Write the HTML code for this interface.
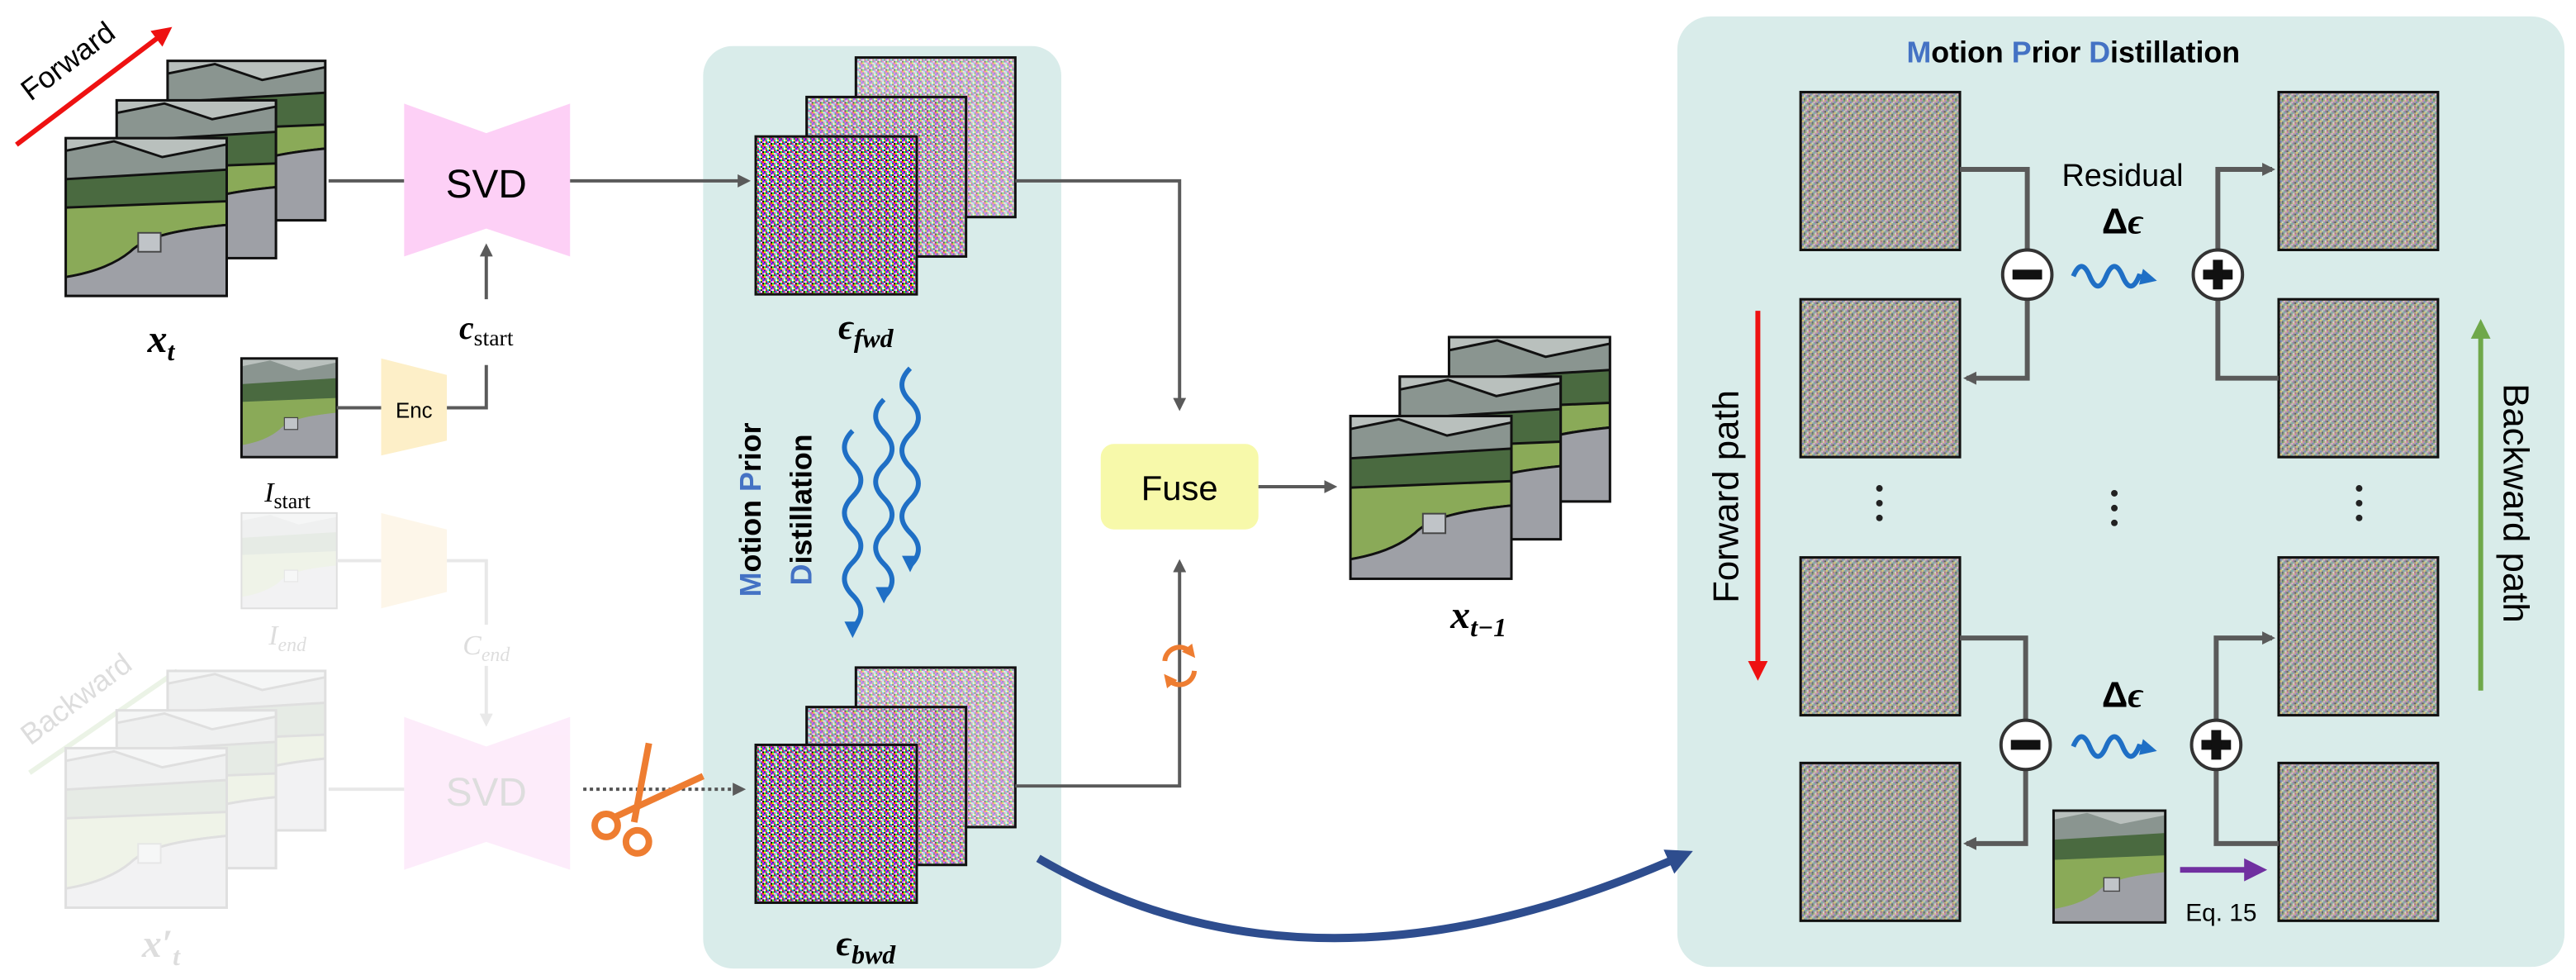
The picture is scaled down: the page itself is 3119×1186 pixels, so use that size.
<!DOCTYPE html>
<html><head><meta charset="utf-8"><style>
html,body{margin:0;padding:0;background:#fff;}
svg{display:block;}
text{font-family:"Liberation Sans",sans-serif;}
.m{font-family:"Liberation Serif",serif;font-style:italic;font-weight:bold;}
</style></head><body>
<svg width="3119" height="1186" viewBox="0 0 1568 596" preserveAspectRatio="none" xmlns="http://www.w3.org/2000/svg">
<defs>
<pattern id="nz" width="5" height="5" patternUnits="userSpaceOnUse">
<rect width="5" height="5" fill="#999"/>
<rect x="0" y="0" width="1" height="1" fill="#ff00cc"/><rect x="1" y="0" width="1" height="1" fill="#00e060"/><rect x="2" y="0" width="1" height="1" fill="#fff"/><rect x="3" y="0" width="1" height="1" fill="#ffee00"/><rect x="4" y="0" width="1" height="1" fill="#2040ff"/>
<rect x="0" y="1" width="1" height="1" fill="#fff"/><rect x="1" y="1" width="1" height="1" fill="#e02020"/><rect x="2" y="1" width="1" height="1" fill="#00c0ff"/><rect x="3" y="1" width="1" height="1" fill="#222"/><rect x="4" y="1" width="1" height="1" fill="#ff80ff"/>
<rect x="0" y="2" width="1" height="1" fill="#20ff20"/><rect x="1" y="2" width="1" height="1" fill="#3030c0"/><rect x="2" y="2" width="1" height="1" fill="#ff2080"/><rect x="3" y="2" width="1" height="1" fill="#ffffff"/><rect x="4" y="2" width="1" height="1" fill="#000"/>
<rect x="0" y="3" width="1" height="1" fill="#ffd000"/><rect x="1" y="3" width="1" height="1" fill="#eee"/><rect x="2" y="3" width="1" height="1" fill="#40ffe0"/><rect x="3" y="3" width="1" height="1" fill="#c000ff"/><rect x="4" y="3" width="1" height="1" fill="#ff4000"/>
<rect x="0" y="4" width="1" height="1" fill="#0040a0"/><rect x="1" y="4" width="1" height="1" fill="#ff60a0"/><rect x="2" y="4" width="1" height="1" fill="#e0e0e0"/><rect x="3" y="4" width="1" height="1" fill="#00a040"/><rect x="4" y="4" width="1" height="1" fill="#ff00ff"/>
</pattern>
<pattern id="nz2" width="5" height="5" patternUnits="userSpaceOnUse">
<rect width="5" height="5" fill="#a8a49c"/>
<rect x="0" y="0" width="1" height="1" fill="#d080b8"/><rect x="2" y="0" width="1" height="1" fill="#6a9a60"/><rect x="4" y="0" width="1" height="1" fill="#d8d090"/>
<rect x="1" y="1" width="1" height="1" fill="#7088c0"/><rect x="3" y="1" width="1" height="1" fill="#e0b0d0"/>
<rect x="0" y="2" width="1" height="1" fill="#5a6a50"/><rect x="2" y="2" width="1" height="1" fill="#c0e0c0"/><rect x="4" y="2" width="1" height="1" fill="#9070b0"/>
<rect x="1" y="3" width="1" height="1" fill="#e0d070"/><rect x="3" y="3" width="1" height="1" fill="#70b0b0"/>
<rect x="0" y="4" width="1" height="1" fill="#b08070"/><rect x="2" y="4" width="1" height="1" fill="#606878"/><rect x="4" y="4" width="1" height="1" fill="#d0d0e0"/>
</pattern>
<symbol id="photo" viewBox="0 0 100 100" preserveAspectRatio="none">
<rect width="100" height="100" fill="#9a9ca2"/>
<rect width="100" height="25" fill="#b9c0bd"/>
<path d="M0 8 L30 2 L60 12 L100 4 L100 28 L0 28Z" fill="#8a9590"/>
<path d="M0 26 L100 20 L100 42 L0 46Z" fill="#4a6a40"/>
<path d="M0 44 L100 40 L100 55 C70 58 50 62 40 72 C28 82 12 86 0 88Z" fill="#8aaa58"/>
<path d="M0 88 C12 86 28 82 40 72 C50 62 70 58 100 55 L100 100 L0 100Z" fill="#9ea0a6"/>
<rect x="45" y="60" width="14" height="12" fill="#c0c4c8" stroke="#444" stroke-width="1"/>
</symbol>
<symbol id="nimg" viewBox="0 0 100 100" preserveAspectRatio="none">
<rect width="100" height="100" fill="url(#nz2)"/>
</symbol>
<marker id="ah" markerWidth="8" markerHeight="8" refX="6" refY="4" orient="auto" markerUnits="userSpaceOnUse"><path d="M0 0 L8 4 L0 8Z" fill="#5a5a5a"/></marker>
<marker id="ahb" markerWidth="10" markerHeight="10" refX="7" refY="5" orient="auto" markerUnits="userSpaceOnUse"><path d="M0 0 L10 5 L0 10Z" fill="#1f6fc5"/></marker>
<marker id="ahn" markerWidth="16" markerHeight="16" refX="10" refY="8" orient="auto" markerUnits="userSpaceOnUse"><path d="M0 0 L16 8 L0 16Z" fill="#2e4d8e"/></marker>
<marker id="ahr" markerWidth="12" markerHeight="12" refX="6" refY="6" orient="auto" markerUnits="userSpaceOnUse"><path d="M0 0 L12 6 L0 12Z" fill="#ee1111"/></marker>
<marker id="ahg" markerWidth="12" markerHeight="12" refX="6" refY="6" orient="auto" markerUnits="userSpaceOnUse"><path d="M0 0 L12 6 L0 12Z" fill="#6fa84a"/></marker>
<marker id="ahp" markerWidth="14" markerHeight="14" refX="6" refY="7" orient="auto" markerUnits="userSpaceOnUse"><path d="M0 0 L14 7 L0 14Z" fill="#7030a0"/></marker>
<marker id="aho" markerWidth="8" markerHeight="8" refX="4" refY="4" orient="auto" markerUnits="userSpaceOnUse"><path d="M0 0 L8 4 L0 8Z" fill="#ee7d31"/></marker>
</defs>

<rect x="428" y="28" width="218" height="561" rx="18" fill="#d9ecea"/>
<rect x="1021" y="10" width="540" height="578" rx="20" fill="#d9ecea"/>

<line x1="10" y1="88" x2="100" y2="20" stroke="#ee1111" stroke-width="3" marker-end="url(#ahr)"/>
<text x="45" y="42" font-size="18" transform="rotate(-37 45 42)" text-anchor="middle">Forward</text>

<g stroke="#111" stroke-width="1.5">
<use href="#photo" x="102" y="37" width="96" height="97"/><rect x="102" y="37" width="96" height="97" fill="none"/>
<use href="#photo" x="71" y="61" width="97" height="96"/><rect x="71" y="61" width="97" height="96" fill="none"/>
<use href="#photo" x="40" y="84" width="98" height="96"/><rect x="40" y="84" width="98" height="96" fill="none"/>
</g>
<text class="m" x="98" y="214" font-size="24" text-anchor="middle">x<tspan font-size="16" dy="5">t</tspan></text>

<line x1="200" y1="110" x2="246" y2="110" stroke="#5a5a5a" stroke-width="2"/>
<path d="M246 63 L296 81 L347 63 L347 156 L296 139 L246 156Z" fill="#fdd0f6"/>
<text x="296" y="120" font-size="24" text-anchor="middle">SVD</text>
<line x1="347" y1="110" x2="455" y2="110" stroke="#5a5a5a" stroke-width="2" marker-end="url(#ah)"/>

<polyline points="272,248 296,248 296,222" fill="none" stroke="#5a5a5a" stroke-width="2"/>
<line x1="296" y1="182" x2="296" y2="150" stroke="#5a5a5a" stroke-width="2" marker-end="url(#ah)"/>
<text class="m" x="296" y="206" font-size="20" text-anchor="middle">c<tspan font-family="Liberation Serif" font-style="normal" font-weight="normal" font-size="14" dy="4">start</tspan></text>
<use href="#photo" x="147" y="218" width="58" height="60"/><rect x="147" y="218" width="58" height="60" fill="none" stroke="#111" stroke-width="1.5"/>
<line x1="205" y1="248" x2="232" y2="248" stroke="#5a5a5a" stroke-width="2"/>
<path d="M232 218 L272 228 L272 268 L232 277Z" fill="#fdefc8"/>
<text x="252" y="254" font-size="13" text-anchor="middle">Enc</text>
<text x="175" y="305" font-size="17" font-style="italic" text-anchor="middle" style="font-family:'Liberation Serif',serif">I<tspan font-style="normal" font-size="13" dy="4">start</tspan></text>

<g opacity="0.13">
<use href="#photo" x="147" y="312" width="58" height="58"/><rect x="147" y="312" width="58" height="58" fill="none" stroke="#111"/>
<line x1="205" y1="341" x2="232" y2="341" stroke="#555" stroke-width="2"/>
<path d="M232 312 L272 322 L272 360 L232 370Z" fill="#f5c060"/>
<polyline points="272,341 296,341 296,380" fill="none" stroke="#555" stroke-width="2"/>
<line x1="296" y1="405" x2="296" y2="440" stroke="#555" stroke-width="2" marker-end="url(#ah)"/>
<text x="175" y="392" font-size="17" font-style="italic" style="font-family:'Liberation Serif',serif" text-anchor="middle">I<tspan font-size="12" dy="4">end</tspan></text>
<text x="296" y="398" font-size="17" font-style="italic" style="font-family:'Liberation Serif',serif" text-anchor="middle">C<tspan font-size="12" dy="4">end</tspan></text>
<path d="M246 436 L296 454 L347 436 L347 529 L296 512 L246 529Z" fill="#f070e0"/>
<text x="296" y="490" font-size="24" text-anchor="middle">SVD</text>
<line x1="200" y1="480" x2="246" y2="480" stroke="#555" stroke-width="2"/>
<line x1="18" y1="470" x2="108" y2="408" stroke="#6fa84a" stroke-width="3"/>
<text x="50" y="430" font-size="18" transform="rotate(-37 50 430)" text-anchor="middle">Backward</text>
<g stroke="#111" stroke-width="1.5">
<use href="#photo" x="102" y="408" width="96" height="97"/><rect x="102" y="408" width="96" height="97" fill="none"/>
<use href="#photo" x="71" y="432" width="97" height="96"/><rect x="71" y="432" width="97" height="96" fill="none"/>
<use href="#photo" x="40" y="455" width="98" height="97"/><rect x="40" y="455" width="98" height="97" fill="none"/>
</g>
<text class="m" x="98" y="582" font-size="24" text-anchor="middle">x′<tspan font-size="16" dy="5">t</tspan></text>
</g>

<line x1="355" y1="480" x2="452" y2="480" stroke="#555" stroke-width="2" stroke-dasharray="2,2" marker-end="url(#ah)"/>
<g stroke="#ee7d31" stroke-width="4" fill="none">
<line x1="395" y1="452" x2="386" y2="500"/>
<line x1="428" y1="472" x2="374" y2="497"/>
<circle cx="369" cy="502" r="7"/><circle cx="388" cy="512" r="7"/>
</g>

<g stroke="#111" stroke-width="1.5">
<rect x="521" y="35" width="97" height="97" fill="url(#nz)"/><rect x="521" y="35" width="97" height="97" fill="#e8e8e8" opacity="0.55"/>
<rect x="491" y="59" width="97" height="97" fill="url(#nz)"/><rect x="491" y="59" width="97" height="97" fill="#e0d8e0" opacity="0.4"/>
<rect x="460" y="83" width="98" height="96" fill="url(#nz)"/>
</g>
<text class="m" x="527" y="206" font-size="22" text-anchor="middle">ϵ<tspan font-size="16" dy="5">fwd</tspan></text>
<g stroke="#111" stroke-width="1.5">
<rect x="521" y="406" width="97" height="97" fill="url(#nz)"/><rect x="521" y="406" width="97" height="97" fill="#e8e8e8" opacity="0.55"/>
<rect x="491" y="430" width="97" height="96" fill="url(#nz)"/><rect x="491" y="430" width="97" height="96" fill="#e0d8e0" opacity="0.4"/>
<rect x="460" y="453" width="98" height="96" fill="url(#nz)"/>
</g>
<text class="m" x="527" y="581" font-size="22" text-anchor="middle">ϵ<tspan font-size="16" dy="5">bwd</tspan></text>

<text x="0" y="0" font-size="18" font-weight="bold" text-anchor="middle" transform="translate(463 310) rotate(-90)"><tspan fill="#4472c4">M</tspan>otion <tspan fill="#4472c4">P</tspan>rior</text>
<text x="0" y="0" font-size="18" font-weight="bold" text-anchor="middle" transform="translate(494 310) rotate(-90)"><tspan fill="#4472c4">D</tspan>istillation</text>
<g fill="none" stroke="#1f6fc5" stroke-width="3">
<path d="M519 262 q-10 10 0 20 t0 20 t0 20 t0 20 t0 20 t0 20 l0 3" marker-end="url(#ahb)"/>
<path d="M538 243 q-10 10 0 20 t0 20 t0 20 t0 20 t0 20 t0 20 l0 1" marker-end="url(#ahb)"/>
<path d="M554 224 q-10 10 0 20 t0 20 t0 20 t0 20 t0 20 t0 20 l0 1" marker-end="url(#ahb)"/>
</g>

<polyline points="618,110 718,110 718,248" fill="none" stroke="#5a5a5a" stroke-width="2" marker-end="url(#ah)"/>
<polyline points="618,478 718,478 718,342" fill="none" stroke="#5a5a5a" stroke-width="2" marker-end="url(#ah)"/>
<rect x="670" y="270" width="96" height="52" rx="8" fill="#f7f9aa"/>
<text x="718" y="304" font-size="21" text-anchor="middle">Fuse</text>
<rect x="706" y="392" width="24" height="24" fill="#d9ecea" opacity="0"/>
<g fill="none" stroke="#ee7d31" stroke-width="3">
<path d="M709 402 A9 9 0 0 1 725 397" marker-end="url(#aho)"/>
<path d="M727 408 A9 9 0 0 1 711 413" marker-end="url(#aho)"/>
</g>
<line x1="766" y1="296" x2="812" y2="296" stroke="#5a5a5a" stroke-width="2" marker-end="url(#ah)"/>
<g stroke="#111" stroke-width="1.5">
<use href="#photo" x="882" y="205" width="98" height="100"/><rect x="882" y="205" width="98" height="100" fill="none"/>
<use href="#photo" x="852" y="229" width="98" height="99"/><rect x="852" y="229" width="98" height="99" fill="none"/>
<use href="#photo" x="822" y="253" width="98" height="99"/><rect x="822" y="253" width="98" height="99" fill="none"/>
</g>
<text class="m" x="900" y="382" font-size="24" text-anchor="middle">x<tspan font-size="16" dy="5">t−1</tspan></text>

<path d="M632 522 Q800 620 1025 520" fill="none" stroke="#2e4d8e" stroke-width="5" marker-end="url(#ahn)"/>

<text x="1262" y="38" font-size="18" font-weight="bold" text-anchor="middle"><tspan fill="#4472c4">M</tspan>otion <tspan fill="#4472c4">P</tspan>rior <tspan fill="#4472c4">D</tspan>istillation</text>
<g stroke="#111" stroke-width="1.5">
<use href="#nimg" x="1096" y="56" width="97" height="96"/><rect x="1096" y="56" width="97" height="96" fill="none"/>
<use href="#nimg" x="1096" y="182" width="97" height="96"/><rect x="1096" y="182" width="97" height="96" fill="none"/>
<use href="#nimg" x="1096" y="339" width="97" height="96"/><rect x="1096" y="339" width="97" height="96" fill="none"/>
<use href="#nimg" x="1096" y="464" width="97" height="96"/><rect x="1096" y="464" width="97" height="96" fill="none"/>
<use href="#nimg" x="1387" y="56" width="97" height="96"/><rect x="1387" y="56" width="97" height="96" fill="none"/>
<use href="#nimg" x="1387" y="182" width="97" height="96"/><rect x="1387" y="182" width="97" height="96" fill="none"/>
<use href="#nimg" x="1387" y="339" width="97" height="96"/><rect x="1387" y="339" width="97" height="96" fill="none"/>
<use href="#nimg" x="1387" y="464" width="97" height="96"/><rect x="1387" y="464" width="97" height="96" fill="none"/>
</g>
<g fill="none" stroke="#5a5a5a" stroke-width="3">
<polyline points="1193,103 1234,103 1234,230 1197,230" marker-end="url(#ah)"/>
<polyline points="1387,230 1350,230 1350,103 1383,103" marker-end="url(#ah)"/>
<polyline points="1193,388 1233,388 1233,513 1197,513" marker-end="url(#ah)"/>
<polyline points="1387,513 1349,513 1349,388 1383,388" marker-end="url(#ah)"/>
</g>
<g stroke="#333" stroke-width="2" fill="#fff">
<circle cx="1234" cy="167" r="15"/><circle cx="1350" cy="167" r="15"/>
<circle cx="1233" cy="453" r="15"/><circle cx="1349" cy="453" r="15"/>
</g>
<g fill="#111">
<rect x="1225" y="164" width="18" height="6"/><rect x="1224" y="450" width="18" height="6"/>
<rect x="1341" y="164" width="18" height="6"/><rect x="1347" y="158" width="6" height="18"/>
<rect x="1340" y="450" width="18" height="6"/><rect x="1346" y="444" width="6" height="18"/>
</g>
<text x="1292" y="113" font-size="19" text-anchor="middle">Residual</text>
<text x="1292" y="142" font-size="22" text-anchor="middle" font-weight="bold">Δ<tspan class="m" font-family="Liberation Serif">ϵ</tspan></text>
<text x="1292" y="430" font-size="22" text-anchor="middle" font-weight="bold">Δ<tspan class="m" font-family="Liberation Serif">ϵ</tspan></text>
<g fill="none" stroke="#1f6fc5" stroke-width="3">
<path d="M1262 168 q5 -12 10 0 t10 0 t10 0 t10 0 l8 2" marker-end="url(#ahb)"/>
<path d="M1262 454 q5 -12 10 0 t10 0 t10 0 t10 0 l8 2" marker-end="url(#ahb)"/>
</g>
<g fill="#222">
<circle cx="1144" cy="297" r="2"/><circle cx="1144" cy="306" r="2"/><circle cx="1144" cy="315" r="2"/>
<circle cx="1287" cy="300" r="2"/><circle cx="1287" cy="309" r="2"/><circle cx="1287" cy="318" r="2"/>
<circle cx="1436" cy="297" r="2"/><circle cx="1436" cy="306" r="2"/><circle cx="1436" cy="315" r="2"/>
</g>
<line x1="1070" y1="189" x2="1070" y2="408" stroke="#ee1111" stroke-width="3" marker-end="url(#ahr)"/>
<text x="0" y="0" font-size="22" text-anchor="middle" transform="translate(1058 302) rotate(-90)">Forward path</text>
<line x1="1510" y1="420" x2="1510" y2="200" stroke="#6fa84a" stroke-width="3" marker-end="url(#ahg)"/>
<text x="0" y="0" font-size="22" text-anchor="middle" transform="translate(1524 306) rotate(90)">Backward path</text>
<use href="#photo" x="1250" y="493" width="68" height="68"/><rect x="1250" y="493" width="68" height="68" fill="none" stroke="#111" stroke-width="1.5"/>
<line x1="1327" y1="529" x2="1372" y2="529" stroke="#7030a0" stroke-width="3.5" marker-end="url(#ahp)"/>
<text x="1352" y="560" font-size="15" text-anchor="middle">Eq. 15</text>
</svg>
</body></html>
